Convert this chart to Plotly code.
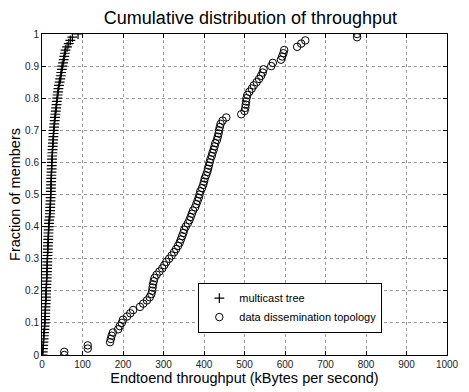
import plotly.graph_objects as go

# Multicast tree: throughput (kBytes/s) and cumulative fraction
mc_x = [1, 2, 2.5, 3, 3.5, 4, 4.5, 5, 6, 6.5,
        7, 7.3, 7.6, 8, 8.3, 8.6, 9, 9.3, 9.6, 10,
        10.3, 10.6, 11, 11.3, 11.6, 12, 12.2, 12.5, 12.8, 13,
        13.3, 13.6, 14, 14.3, 14.6, 15, 15.3, 15.6, 16, 16.4,
        16.8, 17.2, 17.6, 19, 19.5, 20, 20.3, 20.6, 21, 21.2,
        21.5, 21.8, 22, 22.3, 22.6, 22.9, 23.2, 23.5, 23.8, 24,
        24.4, 24.8, 25.2, 25.6, 26, 26.5, 27, 27.5, 28, 28.5,
        29, 29.8, 30.5, 31.3, 32, 33, 34, 35, 35.8, 36.5,
        37.5, 38.5, 39.5, 40.5, 42, 43.5, 45, 46.5, 47.5, 49,
        50, 52, 53.5, 55, 56.5, 58, 62, 66, 70, 75, 89]

# Data dissemination topology
dd_x = [55, 55, 113, 113, 168, 170, 172, 175, 188, 192,
        197, 200, 210, 218, 225, 242, 250, 259, 266, 270,
        272, 273, 274, 276, 278, 283, 290, 297, 302, 307,
        314, 320, 326, 331, 336, 340, 343, 346, 349, 351,
        355, 360, 364, 367, 370, 373, 378, 381, 384, 387,
        389, 391, 395, 398, 400, 402, 405, 408, 410, 412,
        414, 416, 419, 421, 424, 426, 428, 432, 434, 436,
        437, 439, 441, 446, 455, 492, 500, 502, 503, 504,
        505, 507, 512, 518, 523, 530, 536, 541, 545, 547,
        566, 570, 590, 593, 596, 598, 630, 640, 650, 778, 778]

mc_y = [i / (len(mc_x) - 1) for i in range(len(mc_x))]
dd_y = [i / (len(dd_x) - 1) for i in range(len(dd_x))]

x_ticks = [0, 100, 200, 300, 400, 500, 600, 700, 800, 900, 1000]
y_ticks = [0, 0.1, 0.2, 0.3, 0.4, 0.5, 0.6, 0.7, 0.8, 0.9, 1]

fig = go.Figure()
fig.add_trace(go.Scatter(
    x=mc_x, y=mc_y, mode="markers", name="multicast tree",
    marker=dict(symbol="cross-thin", size=7, color="black",
                line=dict(color="black", width=1.2)),
))
fig.add_trace(go.Scatter(
    x=dd_x, y=dd_y, mode="markers", name="data dissemination topology",
    marker=dict(symbol="circle-open", size=7.5, color="black",
                line=dict(color="black", width=1)),
))

font = "Liberation Sans, Arial, sans-serif"
axis_common = dict(
    showline=True, linecolor="black", linewidth=1, mirror="allticks",
    ticks="inside", ticklen=4, tickcolor="black",
    showgrid=True, gridcolor="#9a9a9a", griddash="dot", gridwidth=1,
    zeroline=False, tickfont=dict(size=10, color="#222", family=font),
    ticklabeloverflow="allow",
)

fig.update_layout(
    width=469, height=392,
    margin=dict(l=42, r=10, t=34, b=30),
    paper_bgcolor="white", plot_bgcolor="white",
    font=dict(family=font, color="black"),
    title=dict(text="Cumulative distribution of throughput",
               x=0.534, xanchor="center", y=0.955, yanchor="middle",
               font=dict(size=18, color="black", family=font)),
    xaxis=dict(range=[0, 1000], tickvals=x_ticks,
               title=dict(text="Endtoend throughput (kBytes per second)",
                          font=dict(size=14.5, family=font), standoff=2),
               **axis_common),
    yaxis=dict(range=[0, 1], tickvals=y_ticks,
               title=dict(text="Fraction of members",
                          font=dict(size=14.5, family=font), standoff=1),
               **axis_common),
    legend=dict(x=0.386, y=0.2256, xanchor="left", yanchor="top",
                bgcolor="white", bordercolor="black", borderwidth=1,
                font=dict(size=11, family=font, color="black"),
                itemwidth=30, tracegroupgap=0),
    showlegend=True,
)

fig.write_html("out.html")
